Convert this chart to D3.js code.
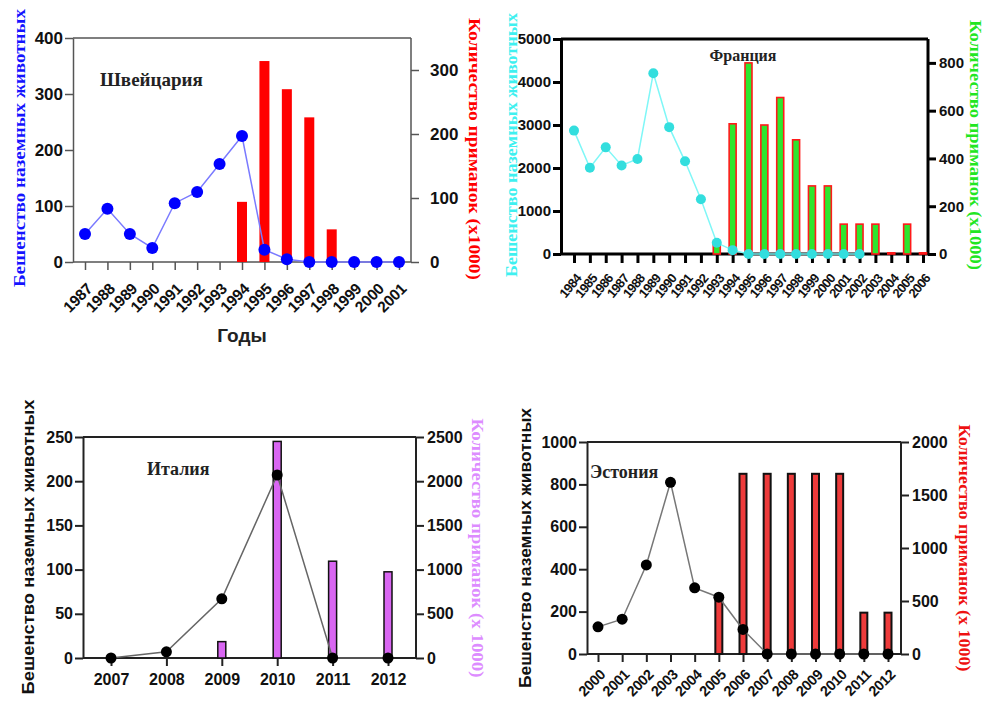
<!DOCTYPE html>
<html>
<head>
<meta charset="utf-8">
<script src="https://cdn.jsdelivr.net/npm/d3@7"></script>
<style>
  body { margin: 0; background: #fff; }
  svg { display: block; }
</style>
</head>
<body>
<div id="chart"></div>
<script>
// ---- data ----
const swissYears = ['1987','1988','1989','1990','1991','1992','1993','1994','1995','1996','1997','1998','1999','2000','2001'];
const swissCases = [50, 95, 50, 25, 105, 125, 175, 225, 22, 5, 0, 0, 0, 0, 0];
const swissBaits = [0, 0, 0, 0, 0, 0, 0, 94, 314, 270, 226, 51, 0, 0, 0];

const franceYears = ['1984','1985','1986','1987','1988','1989','1990','1991','1992','1993','1994','1995',
  '1996','1997','1998','1999','2000','2001','2002','2003','2004','2005','2006'];
const franceCases = [2870, 2005, 2480, 2060, 2210, 4205, 2950, 2155, 1275, 260, 90, 0, 0, 0, 0, 0, 0, 0, 0,
  null, null, null, null];
const franceBaits = [0, 0, 0, 0, 0, 0, 0, 0, 0, 40, 545, 800, 540, 655, 478, 285, 285, 125, 125, 125, 5, 125, 5];

const italyYears = ['2007','2008','2009','2010','2011','2012'];
const italyCases = [0, 7, 67, 207, 0, 0];
const italyBaits = [0, 0, 185, 2450, 1095, 975];

const estoniaYears = ['2000','2001','2002','2003','2004','2005','2006','2007','2008','2009','2010','2011','2012'];
const estoniaCases = [128, 164, 420, 810, 312, 268, 116, 0, 0, 0, 0, 0, 0];
const estoniaBaits = [0, 0, 0, 0, 0, 520, 1700, 1700, 1700, 1700, 1700, 390, 390];

const leftTitle = 'Бешенство наземных животных';
const rightTitle = 'Количество приманок (x1000)';
const rightTitleSp = 'Количество приманок (x 1000)';

const svg = d3.select('#chart').append('svg')
    .attr('width', 982)
    .attr('height', 702);

const SANS = '"Liberation Sans", Arial, sans-serif';
const SERIF = '"Liberation Serif", "Times New Roman", serif';

function drawPanel(c) {
  const g = svg.append('g');

  const x = d3.scalePoint().domain(c.years).range([c.x0, c.x1]);
  const y = d3.scaleLinear().domain([0, c.yMax]).range([c.bottom, c.top]);
  const y2 = d3.scaleLinear().domain([0, c.y2Max]).range([c.bottom, c.top]);

  const styleAxis = (a, size) => {
    a.selectAll('path, line').attr('stroke', c.axisColor).attr('stroke-width', c.axisW);
    a.selectAll('text')
        .attr('fill', '#111')
        .style('font-family', SANS)
        .style('font-weight', 'bold')
        .style('font-size', size + 'px');
  };

  // top frame line + baseline
  g.append('line')
      .attr('x1', c.left).attr('x2', c.right)
      .attr('y1', c.top).attr('y2', c.top)
      .attr('stroke', c.axisColor).attr('stroke-width', c.axisW);
  g.append('line')
      .attr('x1', c.left).attr('x2', c.right)
      .attr('y1', c.bottom).attr('y2', c.bottom)
      .attr('stroke', c.axisColor).attr('stroke-width', c.axisW);

  // left axis
  const yAxisG = g.append('g')
      .attr('transform', `translate(${c.left},0)`)
      .call(d3.axisLeft(y).tickValues(c.yTicks).tickFormat(d3.format('d'))
        .tickSize(c.tick).tickSizeOuter(0).tickPadding(2));
  styleAxis(yAxisG, c.tickFont);

  // right axis
  const y2AxisG = g.append('g')
      .attr('transform', `translate(${c.right},0)`)
      .call(d3.axisRight(y2).tickValues(c.y2Ticks).tickFormat(d3.format('d'))
        .tickSize(c.tick).tickSizeOuter(0).tickPadding(c.rightPad));
  styleAxis(y2AxisG, c.tickFont);
  y2AxisG.select('.domain').attr('d', `M0,${c.bottom}V${c.top}`);

  // bottom axis
  const xAxisG = g.append('g')
      .attr('transform', `translate(0,${c.bottom})`)
      .call(d3.axisBottom(x).tickSize(c.xTick).tickSizeOuter(0));
  xAxisG.select('.domain').remove();
  styleAxis(xAxisG, c.xFont);
  if (c.rotate) {
    xAxisG.selectAll('text')
        .attr('y', 0).attr('dy', '0.35em')
        .attr('text-anchor', 'end')
        .attr('letter-spacing', c.xSpacing || 0)
        .attr('transform', `translate(${c.xdx},${c.xdy}) rotate(${c.rotate})`);
  } else {
    xAxisG.selectAll('text').attr('y', c.xTick + 8);
  }

  // bars (right scale)
  g.selectAll('.bar')
      .data(c.years.map((d, i) => ({year: d, v: c.baits[i]})).filter(d => d.v > 0))
      .join('rect')
      .attr('class', 'bar')
      .attr('x', d => x(d.year) - c.barW / 2)
      .attr('y', d => y2(d.v))
      .attr('width', c.barW)
      .attr('height', d => c.bottom - y2(d.v))
      .attr('fill', c.barFill)
      .attr('stroke', c.barStroke)
      .attr('stroke-width', c.barStrokeW);

  // line (left scale)
  const pts = c.years.map((d, i) => ({year: d, v: c.cases[i]})).filter(d => d.v != null);
  g.append('path')
      .datum(pts)
      .attr('fill', 'none')
      .attr('stroke', c.lineColor)
      .attr('stroke-width', 1.5)
      .attr('d', d3.line().x(d => x(d.year)).y(d => y(d.v)));
  g.selectAll('.dot')
      .data(pts)
      .join('circle')
      .attr('class', 'dot')
      .attr('cx', d => x(d.year))
      .attr('cy', d => y(d.v))
      .attr('r', c.r)
      .attr('fill', c.dotColor);

  // country title
  g.append('text')
      .attr('x', c.titleX).attr('y', c.titleY)
      .attr('text-anchor', c.titleAnchor || 'start')
      .style('font-family', SERIF).style('font-weight', 'bold').style('font-size', c.titleSize + 'px')
      .attr('fill', '#222')
      .text(c.title);

  // axis titles
  g.append('text')
      .attr('transform', `translate(${c.lLabel.x},${c.lLabel.y}) rotate(-90)`)
      .attr('text-anchor', 'middle').attr('dominant-baseline', 'central')
      .attr('textLength', c.lLabel.len).attr('lengthAdjust', 'spacingAndGlyphs')
      .style('font-family', c.lLabel.font).style('font-weight', 'bold').style('font-size', c.lLabel.size + 'px')
      .attr('fill', c.lLabel.color)
      .text(leftTitle);
  g.append('text')
      .attr('transform', `translate(${c.rLabel.x},${c.rLabel.y}) rotate(90)`)
      .attr('text-anchor', 'middle').attr('dominant-baseline', 'central')
      .attr('textLength', c.rLabel.len).attr('lengthAdjust', 'spacingAndGlyphs')
      .style('font-family', SERIF).style('font-weight', 'bold').style('font-size', c.rLabel.size + 'px')
      .attr('fill', c.rLabel.color)
      .text(c.rLabel.text);
}

// Швейцария
drawPanel({
  years: swissYears, cases: swissCases, baits: swissBaits,
  left: 73, right: 411, top: 38, bottom: 262, x0: 85, x1: 399,
  yMax: 400, yTicks: [0, 100, 200, 300, 400], y2Max: 350, y2Ticks: [0, 100, 200, 300],
  tick: 8, xTick: 8, rightPad: 11, tickFont: 17, xFont: 15.5, xSpacing: -0.3,
  rotate: -45, xdx: 4, xdy: 24,
  axisColor: '#555', axisW: 1.5,
  barW: 10, barFill: '#ff0000', barStroke: 'none', barStrokeW: 0,
  lineColor: '#7a7aff', dotColor: '#0000ff', r: 6,
  title: 'Швейцария', titleX: 100, titleY: 86, titleSize: 19,
  lLabel: {x: 19, y: 148, len: 278, size: 16, color: '#1414ff', font: SERIF},
  rLabel: {x: 474, y: 149, len: 262, size: 16, color: '#ff0000', text: rightTitle}
});
svg.append('text')
    .attr('x', 242).attr('y', 342)
    .attr('text-anchor', 'middle')
    .style('font-family', SANS).style('font-weight', 'bold').style('font-size', '19px')
    .attr('fill', '#222')
    .text('Годы');

// Франция
drawPanel({
  years: franceYears, cases: franceCases, baits: franceBaits,
  left: 561, right: 928, top: 39, bottom: 254, x0: 574, x1: 923,
  yMax: 5000, yTicks: [0, 1000, 2000, 3000, 4000, 5000], y2Max: 900, y2Ticks: [0, 200, 400, 600, 800],
  tick: 8, xTick: 9, rightPad: 3, tickFont: 15, xFont: 13, xSpacing: -0.8,
  rotate: -50, xdx: 4, xdy: 22,
  axisColor: '#000', axisW: 3,
  barW: 7, barFill: '#2ee62e', barStroke: '#ff1a1a', barStrokeW: 1.6,
  lineColor: '#7ff7f7', dotColor: '#33dede', r: 5,
  title: 'Франция', titleX: 743, titleY: 61, titleAnchor: 'middle', titleSize: 16,
  lLabel: {x: 511, y: 145, len: 264, size: 16, color: '#3ff0f0', font: SERIF},
  rLabel: {x: 975, y: 145, len: 250, size: 16, color: '#22e622', text: rightTitle}
});

// Италия
drawPanel({
  years: italyYears, cases: italyCases, baits: italyBaits,
  left: 83, right: 416, top: 437, bottom: 658, x0: 111, x1: 388,
  yMax: 250, yTicks: [0, 50, 100, 150, 200, 250], y2Max: 2500, y2Ticks: [0, 500, 1000, 1500, 2000, 2500],
  tick: 8, xTick: 8, rightPad: 3, tickFont: 16, xFont: 16,
  rotate: 0,
  axisColor: '#222', axisW: 2,
  barW: 8, barFill: '#d966f2', barStroke: '#111', barStrokeW: 1.5,
  lineColor: '#666', dotColor: '#000', r: 5.5,
  title: 'Италия', titleX: 147, titleY: 475, titleSize: 18,
  lLabel: {x: 28, y: 547, len: 295, size: 17, color: '#111', font: SANS},
  rLabel: {x: 477, y: 548, len: 259, size: 16, color: '#dd8cff', text: rightTitleSp}
});

// Эстония
drawPanel({
  years: estoniaYears, cases: estoniaCases, baits: estoniaBaits,
  left: 587, right: 901, top: 442, bottom: 654, x0: 598, x1: 888,
  yMax: 1000, yTicks: [0, 200, 400, 600, 800, 1000], y2Max: 2000, y2Ticks: [0, 500, 1000, 1500, 2000],
  tick: 8, xTick: 8, rightPad: 3, tickFont: 16, xFont: 14.5, xSpacing: -0.4,
  rotate: -45, xdx: 4, xdy: 18,
  axisColor: '#222', axisW: 2,
  barW: 7, barFill: '#ee3b3b', barStroke: '#111', barStrokeW: 2,
  lineColor: '#777', dotColor: '#000', r: 5.5,
  title: 'Эстония', titleX: 590, titleY: 478, titleSize: 18,
  lLabel: {x: 525, y: 548, len: 280, size: 17, color: '#111', font: SANS},
  rLabel: {x: 964, y: 548, len: 247, size: 16, color: '#ee1111', text: rightTitleSp}
});
</script>
</body>
</html>
